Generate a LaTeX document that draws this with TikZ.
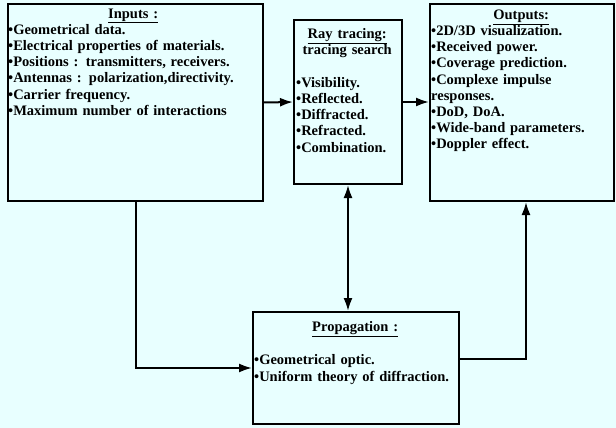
\documentclass[tikz,border=0pt]{standalone}
\usepackage{fontspec}
\setmainfont{Liberation Serif}
\usetikzlibrary{arrows.meta}
\definecolor{bgc}{RGB}{232,255,255}
\begin{document}
\begin{tikzpicture}[x=1pt,y=-1pt,
  boxstyle/.style={draw,line width=2pt,inner sep=0pt,anchor=north west},
  txt/.style={anchor=north west,inner sep=0pt,align=left,font=\fontsize{14.5}{16.2}\selectfont\bfseries},
  conn/.style={line width=2pt,-{Latex[length=13pt,width=9pt]}},
  dconn/.style={line width=2pt,{Latex[length=13pt,width=9pt]}-{Latex[length=13pt,width=9pt]}}]
\fill[bgc] (0,0) rectangle (616,428);
\useasboundingbox (0,0) rectangle (616,428);
\node[boxstyle,minimum width=255pt,minimum height=197pt] (in) at (7,3) {};
\node[boxstyle,minimum width=108pt,minimum height=164pt] (ray) at (293,19) {};
\node[boxstyle,minimum width=184pt,minimum height=197pt] (out) at (429,3) {};
\node[boxstyle,minimum width=206pt,minimum height=112pt] (prop) at (252,311) {};
\node[txt,text width=250pt] (intx) at (8,8.5) {\makebox[\linewidth][c]{\underline{Inputs :}}\\
•Geometrical data.\\
•Electrical properties of materials.\\
•Positions : transmitters, receivers.\\
•Antennas : polarization,directivity.\\
•Carrier frequency.\\
•Maximum number of interactions};
\node[txt,text width=102pt] (raytx) at (296,28.5) {\makebox[\linewidth][c]{\underline{Ray tracing:}}\\
\makebox[\linewidth][c]{tracing search}\\[16.2pt]
•Visibility.\\
•Reflected.\\
•Diffracted.\\
•Refracted.\\
•Combination.};
\node[txt,text width=180pt] (outtx) at (431,9.5) {\makebox[\linewidth][c]{\underline{Outputs:}}\\
•2D/3D visualization.\\
•Received power.\\
•Coverage prediction.\\
•Complexe impulse\\
responses.\\
•DoD, DoA.\\
•Wide-band parameters.\\
•Doppler effect.};
\node[txt,text width=202pt] (proptx) at (254,321) {\makebox[\linewidth][c]{\underline{Propagation :}}\\[17.5pt]
•Geometrical optic.\\
•Uniform theory of diffraction.};
\draw[conn] (in.east) -- (ray.west);
\draw[conn] (ray.east) -- (ray.east -| out.west);
\draw[conn] (in.south) |- (prop.west);
\draw[dconn] (ray.south) -- (ray.south |- prop.north);
\draw[conn] ([yshift=9pt]prop.east) -| ([xshift=4pt]out.south);
\end{tikzpicture}
\end{document}
